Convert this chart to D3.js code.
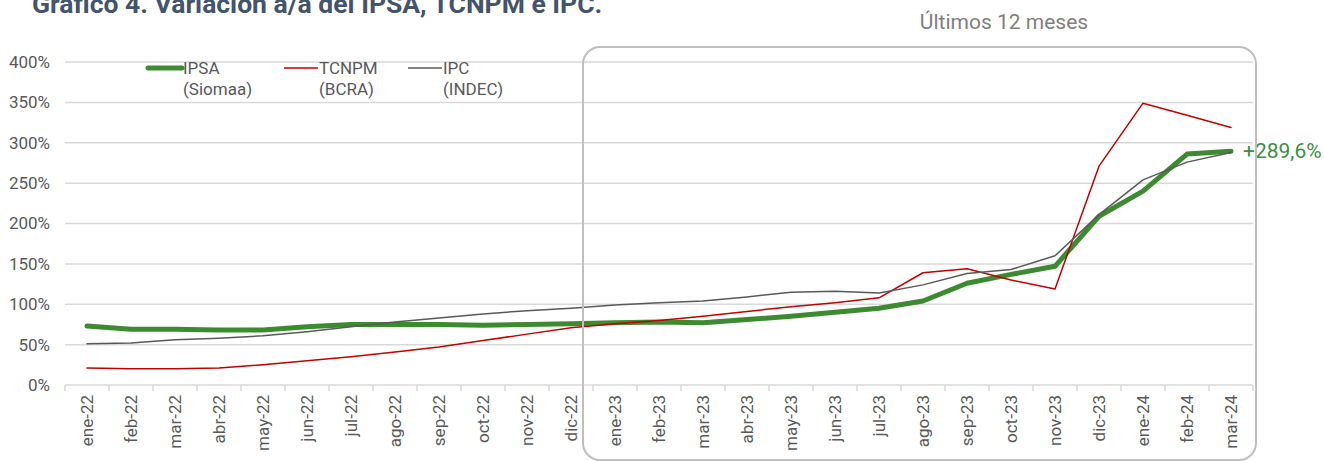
<!DOCTYPE html>
<html>
<head>
<meta charset="utf-8">
<script src="https://cdn.jsdelivr.net/npm/d3@7"></script>
<style>
  body { margin: 0; background: #fff; }
  svg { display: block; font-family: Roboto, 'Noto Sans', sans-serif; }
</style>
</head>
<body>
<svg id="chart"></svg>
<script>
// month labels (x axis)
var months = ['ene-22','feb-22','mar-22','abr-22','may-22','jun-22','jul-22','ago-22','sep-22','oct-22','nov-22','dic-22',
              'ene-23','feb-23','mar-23','abr-23','may-23','jun-23','jul-23','ago-23','sep-23','oct-23','nov-23','dic-23',
              'ene-24','feb-24','mar-24']

// variacion a/a, in %
var ipsa  = [73,69,69,68,68,72,75,75,75,74,75,76, 77,78,77,81,85,90,95,104,126,137,147,209, 240,286,289.6]
var tcnpm = [21,20,20,21,25,30,35,41,47,55,63,71, 76,80,85,91,97,102,108,139,144,130,119,271, 349,334,319]
var ipc   = [51,52,56,58,61,66,72,78,83,88,92,95, 99,102,104,109,115,116,114,124,138,143,160,211, 254,276,288]

var yTicks = [0,50,100,150,200,250,300,350,400]

var series = [
    { name: 'IPSA', sub: '(Siomaa)', values: ipsa, color: '#3d8b30', width: 5 },
    { name: 'TCNPM', sub: '(BCRA)', values: tcnpm, color: '#c00000', width: 1.5 },
    { name: 'IPC', sub: '(INDEC)', values: ipc, color: '#595959', width: 1.5 }
]

var svgWidth = 1324, svgHeight = 461
var margin = { top: 62, left: 65, right: 71, bottom: 76 }
var width = svgWidth - margin.left - margin.right
var height = svgHeight - margin.top - margin.bottom

var svg = d3.select('#chart')
    .attr('width', svgWidth)
    .attr('height', svgHeight)

// title, partly cut at the top
svg.append('text')
    .attr('x', 32)
    .attr('y', 13)
    .attr('fill', '#44546a')
    .attr('font-size', 26.5)
    .attr('font-weight', 'bold')
    .text('Gráfico 4. Variación a/a del IPSA, TCNPM e IPC.')

var g = svg.append('g')
    .attr('transform', 'translate(' + margin.left + ',' + margin.top + ')')

var x = d3.scaleBand()
    .domain(months)
    .range([0, width])

var y = d3.scaleLinear()
    .domain([0, 400])
    .range([height, 0])

// horizontal grid
g.append('g')
    .selectAll('line')
    .data(yTicks.filter(function (d) { return d > 0 }))
    .enter().append('line')
    .attr('x1', 0)
    .attr('x2', width)
    .attr('y1', function (d) { return y(d) })
    .attr('y2', function (d) { return y(d) })
    .attr('stroke', '#d9d9d9')
    .attr('stroke-width', 1.5)

// y axis labels
var yAxis = g.append('g')
    .call(d3.axisLeft(y).tickValues(yTicks).tickSize(0).tickPadding(15)
        .tickFormat(function (d) { return d + '%' }))
yAxis.select('.domain').remove()
yAxis.selectAll('text')
    .attr('fill', '#595959')
    .attr('font-size', 17)
    .attr('font-family', 'Roboto, sans-serif')

// x axis line with ticks at the category boundaries
g.append('line')
    .attr('x1', 0).attr('x2', width)
    .attr('y1', height).attr('y2', height)
    .attr('stroke', '#d9d9d9').attr('stroke-width', 1.5)

g.append('g')
    .selectAll('line')
    .data(months.concat(['end']))
    .enter().append('line')
    .attr('x1', function (d, i) { return i * x.step() })
    .attr('x2', function (d, i) { return i * x.step() })
    .attr('y1', height)
    .attr('y2', height + 6)
    .attr('stroke', '#d9d9d9')
    .attr('stroke-width', 1.5)

// rotated month labels
g.append('g')
    .selectAll('text')
    .data(months)
    .enter().append('text')
    .attr('transform', function (d) {
        return 'translate(' + (x(d) + x.bandwidth() / 2) + ',' + (height + 10) + ') rotate(-90)'
    })
    .attr('dy', '0.35em')
    .attr('text-anchor', 'end')
    .attr('fill', '#595959')
    .attr('font-size', 17)
    .text(function (d) { return d })

// box around the last 12 months
var boxLeft = margin.left + x('ene-23') - 10
var boxRight = margin.left + width + 3
svg.append('rect')
    .attr('x', boxLeft)
    .attr('y', 47)
    .attr('width', boxRight - boxLeft)
    .attr('height', 413)
    .attr('rx', 17)
    .attr('fill', 'none')
    .attr('stroke', '#bfbfbf')
    .attr('stroke-width', 2)

svg.append('text')
    .attr('x', 1004)
    .attr('y', 29)
    .attr('text-anchor', 'middle')
    .attr('fill', '#808080')
    .attr('font-size', 21)
    .text('Últimos 12 meses')

// lines
var line = d3.line()
    .x(function (d, i) { return x(months[i]) + x.bandwidth() / 2 })
    .y(function (d) { return y(d) })

g.selectAll('.series')
    .data(series)
    .enter().append('path')
    .attr('class', 'series')
    .attr('fill', 'none')
    .attr('stroke', function (d) { return d.color })
    .attr('stroke-width', function (d) { return d.width })
    .attr('stroke-linejoin', 'round')
    .attr('stroke-linecap', 'round')
    .attr('d', function (d) { return line(d.values) })

// last value label
var last = ipsa.length - 1
g.append('text')
    .attr('x', x(months[last]) + x.bandwidth() / 2 + 12)
    .attr('y', y(ipsa[last]))
    .attr('dy', '0.35em')
    .attr('fill', '#3e8e41')
    .attr('font-size', 21)
    .text('+' + d3.format('.1f')(ipsa[last]).replace('.', ',') + '%')

// legend
var legendX = [148, 284, 408]
var legend = svg.append('g')
    .selectAll('g')
    .data(series)
    .enter().append('g')
    .attr('transform', function (d, i) { return 'translate(' + legendX[i] + ',68)' })

legend.append('line')
    .attr('x1', 0).attr('x2', 34)
    .attr('stroke', function (d) { return d.color })
    .attr('stroke-width', function (d) { return d.width })
    .attr('stroke-linecap', function (d) { return d.width > 2 ? 'round' : 'butt' })

legend.append('text')
    .attr('x', 35)
    .attr('dy', '0.35em')
    .attr('fill', '#595959')
    .attr('font-size', 17)
    .text(function (d) { return d.name })

legend.append('text')
    .attr('x', 35)
    .attr('y', 21)
    .attr('dy', '0.35em')
    .attr('fill', '#595959')
    .attr('font-size', 17)
    .text(function (d) { return d.sub })
</script>
</body>
</html>
